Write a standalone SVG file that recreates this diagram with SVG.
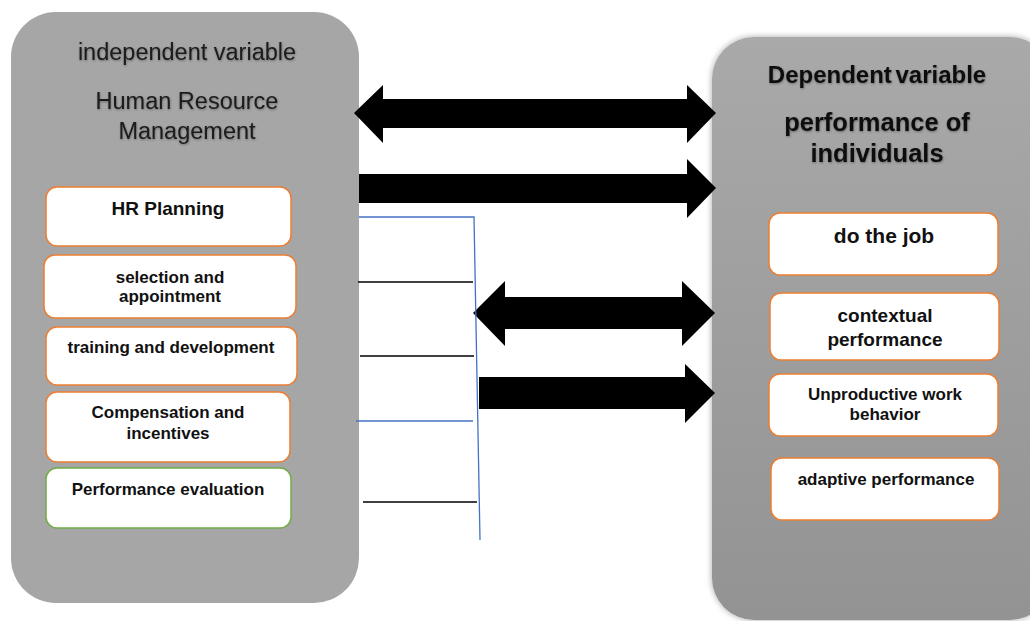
<svg xmlns="http://www.w3.org/2000/svg" width="1030" height="621" viewBox="0 0 1030 621">
<defs>
<linearGradient id="rg" x1="0" y1="0" x2="0" y2="1">
<stop offset="0" stop-color="#a9a9a9"/>
<stop offset="1" stop-color="#939393"/>
</linearGradient>
<filter id="psh" x="-10%" y="-10%" width="120%" height="120%">
<feDropShadow dx="0" dy="0" stdDeviation="3" flood-color="#000" flood-opacity="0.35"/>
</filter>
<filter id="tsh" x="-5%" y="-20%" width="110%" height="140%">
<feDropShadow dx="0.5" dy="1" stdDeviation="0.8" flood-color="#000" flood-opacity="0.35"/>
</filter>
<style>
.panel{stroke:none}
.box{fill:#fff;stroke:#ed7d31;stroke-width:1.5}
.gbox{fill:#fff;stroke:#70ad47;stroke-width:1.5}
.t{font-family:"Liberation Sans",Arial,sans-serif;text-anchor:middle;fill:#111}
.ttl{font-size:23.5px;fill:#1a1a1a}
.rt{font-size:24px;font-weight:bold;fill:#111}
.b{font-weight:bold;font-size:17px}
.arrow{fill:#000}
.blue{stroke:#4472c4;stroke-width:1.3;fill:none}
.blk{stroke:#000;stroke-width:1.3;fill:none}
</style>
</defs>
<rect width="1030" height="621" fill="#fff"/>

<g id="independent-panel">
<rect class="panel" x="11" y="12" width="348" height="591" rx="45" fill="#a6a6a6"/>
<g filter="url(#tsh)">
<text class="t ttl" x="187" y="60">independent variable</text>
<text class="t ttl" x="187" y="109">Human Resource</text>
<text class="t ttl" x="187" y="139">Management</text>
</g>
</g>

<g id="dependent-panel">
<rect class="panel" x="712" y="37" width="340" height="583" rx="42" fill="url(#rg)" filter="url(#psh)"/>
<g filter="url(#tsh)">
<text class="t rt" x="877" y="83" font-size="23.5" word-spacing="-3">Dependent variable</text>
<text class="t rt" x="877" y="131" style="font-size:25.5px">performance of</text>
<text class="t rt" x="877" y="162" style="font-size:25.5px">individuals</text>
</g>
</g>

<g id="hr-planning">
<rect class="box" x="46" y="187" width="245" height="59" rx="11"/>
<text class="t b" x="168" y="215" style="font-size:19px">HR Planning</text>
</g>
<g id="selection">
<rect class="box" x="44" y="255" width="252" height="63" rx="11"/>
<text class="t b" x="170" y="283">selection and</text>
<text class="t b" x="170" y="302">appointment</text>
</g>
<g id="training">
<rect class="box" x="46" y="327" width="251" height="58" rx="11"/>
<text class="t b" x="171" y="353">training and development</text>
</g>
<g id="compensation">
<rect class="box" x="46" y="392" width="244" height="70" rx="11"/>
<text class="t b" x="168" y="418">Compensation and</text>
<text class="t b" x="168" y="439">incentives</text>
</g>
<g id="performance-evaluation">
<rect class="gbox" x="46" y="468" width="245" height="60" rx="11"/>
<text class="t b" x="168" y="495">Performance evaluation</text>
</g>

<g id="do-the-job">
<rect class="box" x="769" y="213" width="229" height="62" rx="11"/>
<text class="t b" x="884" y="243" style="font-size:21px">do the job</text>
</g>
<g id="contextual">
<rect class="box" x="770" y="293" width="229" height="67" rx="11"/>
<text class="t b" x="885" y="322" style="font-size:19px">contextual</text>
<text class="t b" x="885" y="346" style="font-size:19px">performance</text>
</g>
<g id="unproductive">
<rect class="box" x="769" y="374" width="229" height="62" rx="11"/>
<text class="t b" x="885" y="400">Unproductive work</text>
<text class="t b" x="885" y="420">behavior</text>
</g>
<g id="adaptive">
<rect class="box" x="771" y="458" width="228" height="62" rx="11"/>
<text class="t b" x="886" y="485">adaptive performance</text>
</g>

<g id="connectors">
<polygon class="arrow" points="354,113 383,85 383,99 687,99 687,85 716,113 687,143 687,128 383,128 383,143"/>
<polygon class="arrow" points="359,174 687,174 687,159 716,188 687,218 687,203 359,203"/>
<polygon class="arrow" points="473,313 505,281 505,297 682,297 682,281 715,313 682,346 682,329 505,329 505,346"/>
<polygon class="arrow" points="479,377 685,377 685,364 715,393 685,423 685,409 479,409"/>
<polyline class="blue" points="359,217 474,217 480,540"/>
<line class="blue" x1="356" y1="421" x2="473" y2="421"/>
<line class="blk" x1="358" y1="282" x2="473" y2="282"/>
<line class="blk" x1="360" y1="356" x2="474" y2="356"/>
<line class="blk" x1="363" y1="502" x2="477" y2="502"/>
</g>
</svg>
